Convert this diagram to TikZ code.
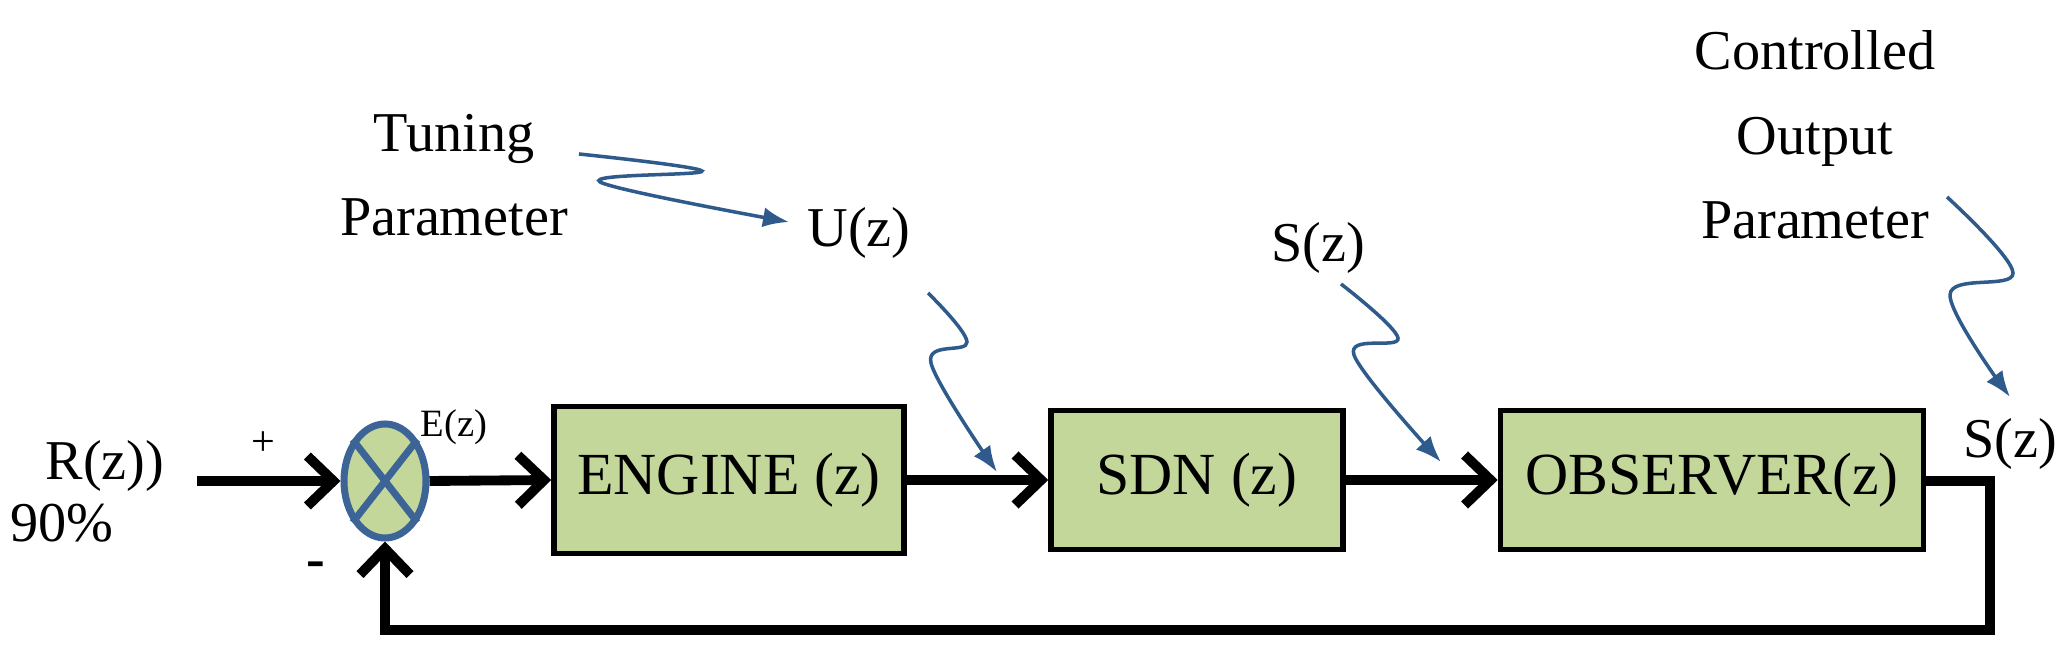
\documentclass[tikz,border=0pt]{standalone}
\usepackage{fontspec}
\setmainfont{Liberation Serif}
\usetikzlibrary{arrows.meta,positioning,shapes.geometric}

\definecolor{blockgreen}{RGB}{196,215,155}
\definecolor{sumblue}{RGB}{60,100,150}
\definecolor{waveblue}{RGB}{46,90,140}

\tikzset{
    block/.style={draw=black,line width=1.6pt,fill=blockgreen,inner sep=0pt,
        font=\fontsize{17}{20}\selectfont},
    signal/.style={line width=2.8pt,-{Straight Barb[length=2.6mm,width=5mm]}},
    wave/.style={draw=waveblue,line width=1pt,-{Latex[length=2.6mm,width=2mm]}},
    lbl/.style={font=\fontsize{16}{24}\selectfont,align=center,inner sep=0pt}
}

\begin{document}
\begin{tikzpicture}
\useasboundingbox (0,0) rectangle (20.59,6.7);

% forward path
\node (sum) [ellipse,draw=sumblue,line width=2pt,fill=blockgreen,
    minimum width=0.82cm,minimum height=1.14cm,inner sep=0pt] at (3.85,1.89) {};
\draw [sumblue,line width=2pt] (sum.128) -- (sum.-52) (sum.52) -- (sum.-128);
\node (engine) [block,minimum width=3.5cm,minimum height=1.47cm] at (7.29,1.90) {ENGINE (z)};
\node (sdn) [block,minimum width=2.92cm,minimum height=1.39cm] at (11.97,1.90) {SDN (z)};
\node (observer) [block,minimum width=4.23cm,minimum height=1.39cm] at (17.12,1.90) {OBSERVER(z)};

\coordinate (in) at (1.97,1.89);
\coordinate (outcorner) at (19.90,1.89);
\coordinate (fbright) at (19.90,0.40);
\coordinate (fbleft) at (3.85,0.40);

\draw [signal] (in) -- (sum.west);
\draw [signal] (sum.east) -- (engine.west);
\draw [signal] (engine.east) -- (sdn.west);
\draw [signal] (sdn.east) -- (observer.west);
\draw [signal,line join=miter] (observer.east |- outcorner) -- (outcorner) -- (fbright) -- (fbleft) -- (sum.south);

% signal labels
\node (rz) [lbl] at (1.05,2.04) {R(z))};
\node (pct) [lbl] at (0.62,1.47) {90\%};
\node (plus) [lbl,font=\fontsize{12}{14}\selectfont] at (2.63,2.26) {+};
\node (minus) [lbl,font=\bfseries\fontsize{16}{18}\selectfont] at (3.16,1.00) {-};
\node (ez) [lbl,font=\fontsize{11}{13}\selectfont] at (4.54,2.43) {E(z)};
\node (szout) [lbl] at (20.10,2.26) {S(z)};

% annotations
\node (tuning) [lbl] at (4.54,4.95) {Tuning\\Parameter};
\node (uz) [lbl] at (8.59,4.37) {U(z)};
\node (sz) [lbl] at (13.18,4.22) {S(z)};
\node (ctrl) [lbl] at (18.15,5.35) {Controlled\\Output\\Parameter};

\draw [wave] plot [smooth,tension=0.6] coordinates {(5.79,5.16) (7.02,4.99) (6.00,4.88) (7.89,4.48)};
\draw [wave] plot [smooth,tension=0.6] coordinates {(9.28,3.77) (9.67,3.28) (9.31,3.07) (9.97,1.98)};
\draw [wave] plot [smooth,tension=0.6] coordinates {(13.41,3.86) (13.98,3.32) (13.54,3.15) (14.41,2.08)};
\draw [wave] plot [smooth,tension=0.6] coordinates {(19.47,4.73) (20.13,3.97) (19.50,3.75) (20.10,2.73)};

\end{tikzpicture}
\end{document}
